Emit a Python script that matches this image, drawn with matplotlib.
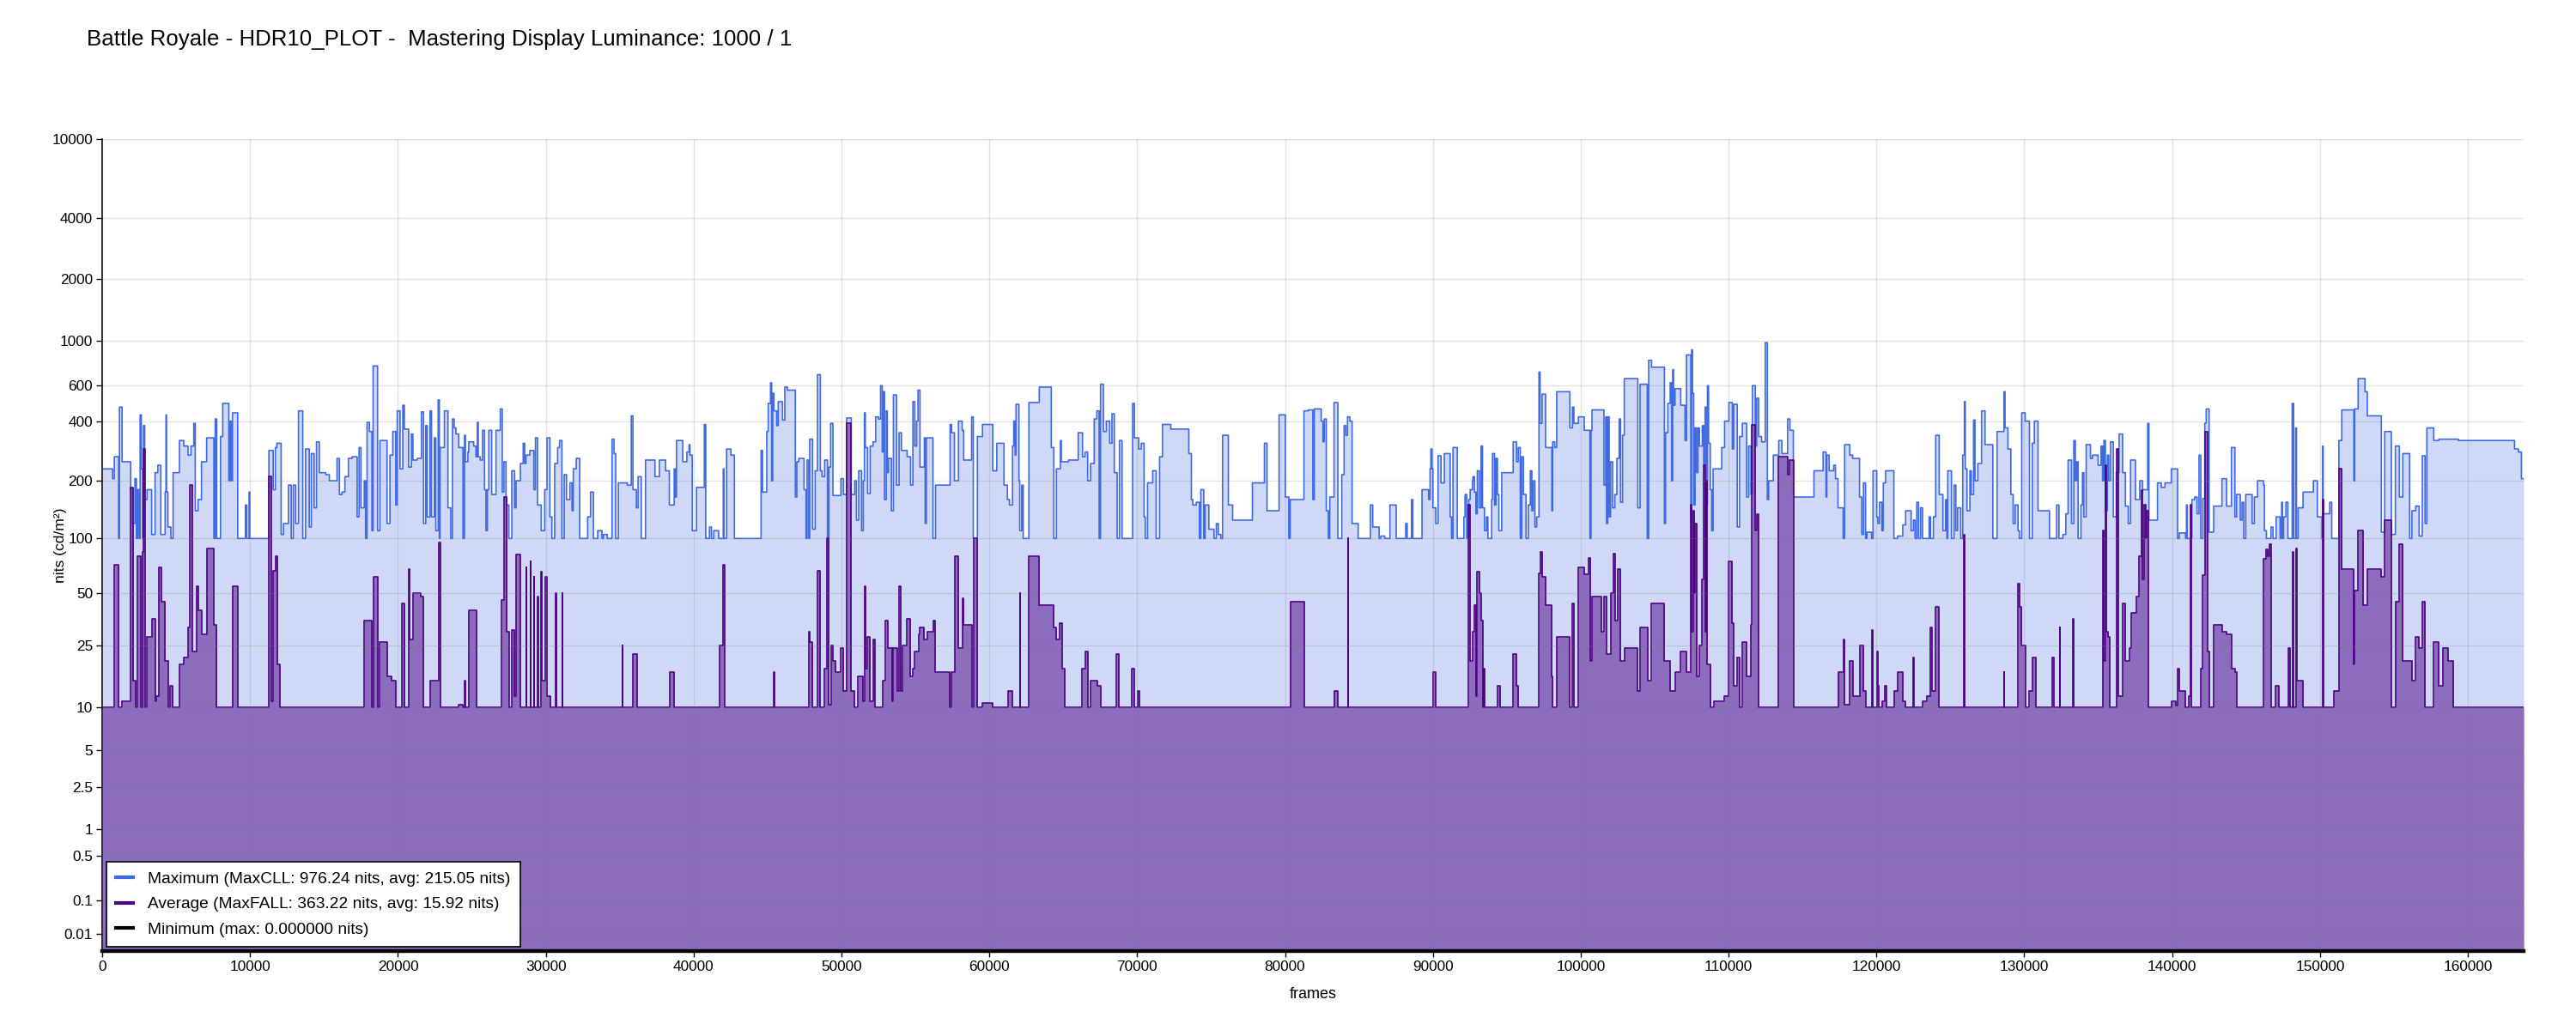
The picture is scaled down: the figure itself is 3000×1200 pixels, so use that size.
import matplotlib
matplotlib.use("Agg")
import matplotlib.pyplot as plt
from matplotlib.lines import Line2D
import numpy as np

plt.rcParams['font.family'] = ['Liberation Sans', 'DejaVu Sans']

TITLE = "Battle Royale - HDR10_PLOT -  Mastering Display Luminance: 1000 / 1"
LAST_FRAME = 163780

# per-frame brightest pixel (nits), step values starting at each frame
max_frames = [
    0, 700, 815, 1105, 1165, 1340, 1920, 2020, 2210, 2310, 2400, 2500, 2560, 2640, 2730, 2790,
    2870, 3030, 3340, 3570, 3760, 3960, 4250, 4310, 4340, 4440, 4640, 4790, 5220, 5510, 5800,
    6000, 6190, 6290, 6480, 6710, 7060, 7550, 7640, 7740, 8000, 8150, 8560, 8650, 8740, 8810,
    9160, 9680, 9780, 9930, 9980, 11270, 11560, 11710, 11810, 12100, 12260, 12590, 12780,
    12920, 13080, 13270, 13560, 13750, 14000, 14140, 14330, 14490, 14680, 15110, 15360, 15880,
    16040, 16220, 16410, 16650, 16900, 17240, 17370, 17500, 17720, 17810, 17910, 18070, 18240,
    18320, 18620, 18780, 19260, 19460, 19650, 19850, 19950, 20140, 20330, 20430, 20720, 20910,
    21010, 21300, 21590, 21730, 21880, 21980, 22170, 22270, 22460, 22560, 22720, 22800, 22850,
    23140, 23380,
    23570, 23685, 23800, 23920, 24110, 24400, 24500, 24560, 24730, 24790, 25120, 25275, 25370,
    25430, 25565, 25720, 25855, 25950, 26050, 26145, 26340, 26630, 26920, 27055, 27170, 27310,
    27500, 27700, 27890, 27990, 28280, 28470, 28570, 28665, 28920, 29190, 29300, 29440, 29690,
    29925, 30080, 30275, 30410, 30600, 30800, 30930, 31090, 31245, 31400, 31630, 31770, 31860,
    32060, 32290, 32830, 33025, 33220, 33510, 33800, 33900, 34150, 34480, 34615, 34730, 34905,
    35510, 35780, 35895, 36125, 36240, 36455, 36745, 37385, 37680, 38100, 38355, 38685, 38740,
    38840, 39265, 39540, 39690, 39750, 39905, 40195, 40720, 40815, 41070, 41205, 41360, 41690,
    42000, 42055, 42230, 42520, 42755, 44560, 44655, 44945, 45045, 45200, 45275, 45350, 45430,
    45620, 45720, 46010, 46165, 46340,
    46880, 46980, 47115, 47465, 47600, 47675, 47790, 47850, 48045, 48220, 48375, 48570, 48685,
    48860, 49050, 49150, 49265, 49420, 49960, 50135, 50350, 50660, 50890, 51010, 51165, 51360,
    51475, 51550, 51610, 51765, 51940, 52135, 52310, 52500, 52640, 52755, 52830, 52910, 53025,
    53100, 53180, 53375, 53510, 53720, 53895, 54050, 54440, 54670, 54830, 54960, 55080, 55175,
    55310, 55600, 55660, 55740, 55835, 56185, 56360, 57345, 57445, 57640, 57910, 58160, 58260,
    58800, 58915, 59190, 59535, 60235, 60505, 60990, 61220, 61360, 61570, 61650, 61745, 61805,
    62000, 62055, 62190, 62290, 62675, 63375, 64190, 64360, 64535, 64805, 64865, 65350, 66010,
    66300, 66475, 66650, 66845, 67095, 67270, 67425, 67520, 67715, 67910, 68140, 68295, 68450,
    68645, 68800, 68975, 69690, 69810,
    70100, 70275, 70465, 70545, 70700, 71050, 71280, 71515, 71710, 72270, 73490, 73665, 73760,
    73995, 74205, 74305, 74500, 74595, 74845, 75195, 75350, 75485, 75660, 75775, 76165, 76455,
    77790, 78605, 78780, 79595, 80020, 80255, 80350, 81280, 81570, 81880, 81980, 82445, 82560,
    82655, 82790, 82930, 83025, 83315, 83570, 83840, 83995, 84110, 84225, 84380, 84535, 84945,
    85775, 85930, 86360, 86475, 86745, 87095, 87520, 88160, 88260, 88550, 88645, 89265, 89710,
    89810, 89865, 89945, 90000, 90195, 90350, 90545, 90775, 91165, 91260, 91360, 91650, 92095,
    92175, 92290, 92425, 92520, 92675,
    92715, 92810, 92910, 93005, 93140, 93260, 93355, 93490, 93625, 93720, 93975, 94035, 94170,
    94265, 94365, 94460, 94655, 95430, 95660, 95775, 95910, 96010, 96125, 96300, 96455, 96590,
    96690, 96785, 96900, 97020, 97175, 97250, 97385, 97620, 98045, 98100, 98240, 98375, 99265,
    99440, 99535, 99845, 100235, 100620, 100700, 100760, 101570, 101690, 101745, 101825, 101920,
    102020, 102155, 102310, 102445, 102600, 102695, 102830, 102945, 103860, 104015, 104500,
    104595, 104790, 105660, 105740, 105890, 106050, 106145, 106220, 106280, 106380, 106765,
    107055, 107155, 107445, 107500, 107560, 107640, 107735, 107830, 107930, 108025, 108220,
    108315, 108410, 108510, 108570, 108645, 108760, 108860, 108955, 109090, 109535, 109730,
    110020, 110255, 110350, 110585, 110740, 110930, 111225, 111360, 111515, 111610, 111805,
    111900, 112035, 112230, 112480, 112620, 112715, 113025, 113395, 113605, 113995, 114150,
    114380, 115775, 116395,
    116590, 116645, 116800, 117110, 117230, 117400, 117750, 117850, 118195, 118390, 118855,
    119010, 119125, 119265, 119360, 119670, 119770, 120020, 120095, 120210, 120370, 120465,
    120620, 121180, 121435, 121780, 121975, 122345, 122500, 122615, 122730, 122850, 122985,
    123120, 123565, 123660, 123855, 124010, 124245, 124495, 124670, 124765, 124825, 125075,
    125250, 125370, 125485, 125700, 125835, 125950, 126010, 126125, 126320, 126415, 126570,
    126665, 126860, 127110, 127345, 127870, 128160, 128625, 128700, 128895, 129090, 129245,
    129380, 129575, 129670, 129825, 130060, 130350, 130545, 130680, 130930, 131705, 132190,
    132345, 132615, 132810, 132965, 133195, 133350, 133450, 133545, 133640, 133835, 133935,
    134030, 134185, 134475, 134610, 134995, 135195, 135290, 135385, 135485, 135620, 135715,
    135835, 136025, 136220, 136415, 136650, 136840, 137035, 137190, 137520, 137810, 138005,
    138350, 138430, 139010, 139265, 139515,
    139945, 140370, 140485, 140910, 140970, 141030, 141340, 141530, 141685, 141820, 141940,
    142075, 142210, 142305, 142500, 142810, 143370, 143685, 144010, 144245, 144360, 144610,
    144730, 144845, 144980, 145410, 145560, 145775, 146185, 146240, 146375, 146685, 146820,
    147035, 147305, 147405, 147460, 147540, 147695, 147830, 148120, 148220, 148355, 148410,
    148525, 148855, 149555, 149825, 150135, 150175, 150215, 150660, 150795, 151280, 151475,
    152290, 152345, 152580, 153045, 153200, 154150, 154380, 154825, 155100, 155370, 155600,
    156065, 156220, 156475, 156705, 156920, 157110, 157230, 157695, 158045, 159360, 163160,
    163430, 163625,
]
max_nits = [
    230, 205, 265, 100, 470, 250, 180, 120, 205, 100, 180, 100, 430, 230, 100, 380,
    160, 180, 105, 220, 240, 105, 175, 430, 175, 115, 100, 220, 320, 300, 270,
    300, 390, 140, 160, 250, 330, 100, 410, 100, 335, 490, 200, 400, 200, 440,
    100, 150, 100, 175, 100, 285, 180, 295, 310, 105, 120, 190, 100,
    190, 120, 450, 100, 290, 115, 275, 145, 315, 220, 215, 200, 260,
    170, 175, 210, 260, 265, 130, 295, 145, 200, 100, 395, 355, 110,
    750, 110, 320, 120, 270, 355, 150, 450, 230, 480, 365, 235, 345,
    255, 260, 445, 120, 380, 130, 450, 130, 330, 110, 510, 100, 295,
    450, 145,
    100, 410, 370, 345, 295, 100, 340, 250, 280, 315, 300, 265, 395,
    265, 255, 360, 180, 110, 180, 360, 170, 360, 460, 175, 250, 150,
    100, 225, 145, 200, 245, 310, 245, 270, 285, 180, 330, 150, 110,
    180, 330, 130, 100, 245, 295, 320, 100, 215, 160, 195, 140, 230,
    260, 100, 130, 175, 100, 110, 100, 105, 100, 325, 275, 100, 195,
    190, 425, 180, 145, 210, 100, 255, 210, 255, 225, 150, 230, 165,
    320, 250, 280, 305, 270, 110, 185, 385, 100, 115, 100, 110, 100,
    230, 100, 290, 270, 100, 285, 175, 355, 490, 620, 200, 550, 450,
    380, 500, 405, 590, 570,
    165, 250, 260, 180, 100, 255, 100, 325, 112, 225, 680, 225, 210,
    255, 100, 235, 390, 168, 205, 170, 415, 170, 200, 125, 225, 110,
    200, 440, 295, 172, 300, 315, 420, 410, 600, 280, 560, 160, 450,
    220, 260, 140, 540, 190, 350, 285, 265, 190, 500, 300, 400, 570,
    235, 330, 120, 330, 330, 100, 190, 385, 350, 200, 400, 360, 255,
    420, 100, 335, 385, 225, 310, 190, 160, 150, 300, 400, 270, 485,
    200, 110, 190, 100, 495, 590, 295, 100, 230, 320, 250, 255, 350,
    265, 280, 200, 245, 410, 450, 100, 610, 355, 400, 310, 435, 220,
    100, 320, 100, 490, 330,
    290, 310, 130, 100, 195, 225, 100, 265, 385, 365, 275, 160, 150,
    155, 100, 180, 100, 150, 112, 100, 120, 105, 100, 340, 150, 125,
    195, 310, 140, 430, 165, 100, 160, 450, 455, 160, 460, 400, 315,
    410, 140, 100, 165, 495, 100, 215, 380, 340, 420, 400, 120, 100,
    150, 115, 100, 103, 100, 150, 100, 120, 100, 160, 100, 180, 160,
    230, 290, 230, 145, 120, 268, 195, 275, 130, 100, 295, 100, 130,
    170, 100, 160, 180, 200,
    210, 175, 135, 225, 145, 300, 145, 110, 130, 100, 160, 275, 150,
    260, 170, 110, 220, 315, 250, 295, 100, 265, 170, 100, 150, 225,
    140, 200, 115, 130, 700, 390, 545, 295, 140, 315, 295, 560, 370,
    470, 390, 420, 360, 100, 360, 455, 190, 420, 120, 420, 130,
    250, 145, 170, 260, 410, 155, 340, 650, 145, 610, 100,
    800, 740, 120, 350, 490, 620, 200, 720, 480, 580, 480,
    320, 850, 125, 900, 550, 150, 370, 220, 370, 300, 380,
    240, 470, 150, 600, 310, 180, 110, 230, 230, 295, 400,
    495, 290, 485, 115, 335, 390, 165, 300, 170, 600, 300,
    520, 335, 315, 976.24, 160, 200, 270, 320, 275, 410, 360,
    165, 225, 280,
    165, 270, 225, 240, 205, 145, 100, 305, 270, 260, 165,
    105, 195, 100, 108, 100, 225, 130, 120, 155, 110, 195,
    225, 100, 103, 118, 140, 110, 125, 100, 155, 100, 145,
    100, 130, 100, 130, 340, 170, 110, 160, 100, 225, 100,
    190, 110, 145, 100, 270, 500, 230, 140, 225, 170, 405,
    200, 245, 450, 305, 100, 355, 560, 370, 290, 170, 120,
    150, 110, 100, 440, 400, 100, 310, 400, 140, 100, 150,
    100, 105, 135, 255, 120, 320, 200, 250, 100, 150, 220,
    130, 305, 260, 270, 240, 300, 200, 320, 140, 270, 200,
    315, 130, 220, 345, 220, 148, 120, 255, 160, 200, 180,
    390, 125, 195, 185, 195,
    230, 100, 107, 100, 150, 100, 160, 165, 135, 270, 100,
    162, 390, 460, 108, 148, 205, 148, 295, 130, 170, 125,
    155, 100, 170, 120, 165, 200, 190, 110, 100, 115, 100,
    130, 100, 155, 100, 130, 155, 100, 490, 100, 370, 100,
    145, 175, 200, 130, 100, 300, 135, 155, 100, 320, 455,
    200, 460, 650, 560, 425, 108, 355, 105, 300, 165, 275,
    100, 140, 148, 103, 268, 120, 370, 320, 325, 320, 290,
    280, 205,
]

# per-frame average light level (nits)
avg_frames = [
    0, 815, 1105, 1355, 1920, 2110, 2265, 2400, 2595, 2695, 2790, 2870, 3030, 3340, 3570, 3665,
    3800, 3990, 4250, 4440, 4595, 4770, 5215, 5505, 5795, 5930, 6085, 6375, 6475, 6705, 7055,
    7540, 7730, 8800, 9150, 11260, 11415, 11550, 11705, 11860, 12000, 17715, 18240, 18320,
    18625, 18780, 19265, 19555, 19845, 20270, 20465, 20720, 20775, 21010, 21550, 21725, 22170,
    22750, 22850,
    24110, 24365, 24500, 24560, 24790, 25310, 27020, 27170, 27365, 27500, 27700, 27890, 27990,
    28280, 28665, 28705, 28955, 28995, 29190, 29230, 29460, 29500, 29690, 29730, 29965, 30080,
    30315, 30660, 30740, 31110, 31145, 35175, 35215, 35895, 36165, 38375, 38665, 41745, 41980,
    42075, 45430, 45470,
    47790, 47850, 48045, 48375, 48570, 48860, 49015, 49150, 49305, 49420, 49595, 49945, 50135,
    50350, 50660, 50890, 51125, 51435, 51590, 51630, 51765, 51940, 52135, 52250, 52790, 52985,
    53140, 53410, 53510, 53760, 53915, 53995, 54030, 54150, 54440, 54670, 54830, 54960, 55215,
    55310, 55600, 55795, 56185, 56320, 57345, 57445, 57640, 57910, 58160, 58275, 58800, 58955,
    59190, 59535, 60235, 61260, 61550, 62055, 62095, 62675, 63375, 64360, 64515, 64750, 64905,
    65100, 66280, 66475, 66650, 66845, 67325, 67520, 68605, 68760, 69635, 69790,
    70040, 70135, 80350, 81280, 83315, 83570, 84245, 84285, 90000, 90195, 92425, 92520,
    92715, 92810, 92910, 93005, 93140, 93260, 93355, 93450, 93490,
    94365, 94555, 95430, 95660, 95775, 97175, 97270, 97405, 97620, 98045, 98100, 98375, 99265,
    99440, 99535, 99845, 100235, 100545, 100660, 100760, 101395, 101590, 101725, 102020, 102210,
    102310, 102500, 102695, 102945, 103860, 104015, 104535, 104790, 105660, 106050, 106395,
    106765, 107155, 107445, 107520, 107600, 107675, 107755, 107870, 108025, 108220, 108315,
    108410, 108470, 108550, 108800, 109035, 109730, 110020, 110255, 110350, 110585, 110740,
    110930, 111225, 111475, 111570, 111805, 111900, 112035, 113355, 113975, 114130, 114380,
    117400, 117750, 117850, 118195, 118390, 118855, 119125, 119265, 119670, 119770, 120020,
    120095, 120175, 120370, 120560, 120660, 121180, 121435, 121780, 121975, 122460, 122540,
    123120, 123430, 123625, 123760, 124010, 124245, 125890, 125990, 128625, 128665, 129590,
    129690, 129825, 130060, 130350, 130545, 130795, 131900, 131995, 132385, 132440, 133295,
    133350, 135290, 135385, 135485, 135560, 135680, 135775, 136220, 136355, 136650, 136840,
    137130, 137230, 137575, 137750, 137905, 138005, 138100, 138195, 138295, 138390,
    139945, 140235, 140370, 140485, 140910, 141105, 141240, 141300, 141940, 142075, 142210,
    142385, 142500, 142810, 143370, 143665, 144010, 144245, 144360, 146185, 146340, 146495,
    146570, 146685, 147015, 147210, 147850, 147985, 148140, 148200, 148375, 148430, 148855,
    150175, 150215, 150930, 151280, 151475, 152290, 152345, 152580, 152925, 153200, 154150,
    154380, 154825, 155100, 155370, 155600, 156220, 156475, 156705, 156920, 157110, 157695,
    158045, 158315, 158645, 159030,
]
avg_nits = [
    10, 72, 10, 11, 185, 15, 10, 80, 10, 85, 290, 10, 28, 36, 11, 12,
    70, 45, 20, 10, 14, 10, 19, 21, 32, 190, 23, 55, 40, 29, 88,
    33, 10, 55, 10, 210, 11, 67, 80, 19, 10, 35, 10, 62,
    10, 26, 16, 15, 10, 44, 10, 68, 27, 50, 48, 10, 15,
    95, 10,
    10.5, 10, 15, 10, 40, 10, 46, 165, 30, 10, 31, 12, 82,
    10, 70, 10, 75, 10, 62, 10, 48, 10, 66, 15, 62, 12,
    10, 50, 10, 50, 10, 25, 10, 22, 10, 17, 10, 25, 72,
    10, 17, 10,
    30, 26, 10, 67, 10, 18, 100, 10.5, 25, 20, 17, 24, 13,
    390, 13, 10, 16, 11, 55, 18, 28, 11, 27, 10, 15, 35,
    24, 11, 24, 13, 55, 20, 13, 25, 36, 16, 18, 23, 29,
    32, 27, 30, 35, 17, 10, 17, 80, 24, 47, 33, 10, 100,
    10, 10.8, 10, 13, 10, 50, 10, 80, 43, 32, 27, 34, 18,
    10, 18, 23, 10, 15, 14, 10, 22, 10, 18, 10,
    13, 10, 45, 10, 13, 10, 100, 10, 17, 10, 150, 20,
    30, 43, 12, 66, 50, 35, 10, 18, 10,
    14, 10, 22, 14, 10, 65, 85, 62, 43, 16, 10, 28, 10,
    44, 10, 70, 64, 79, 20, 48, 30, 48, 22, 50, 83,
    35, 68, 20, 24, 13, 32, 15, 44, 20, 13, 17,
    23, 17, 150, 30, 140, 50, 120, 16, 25, 60, 240,
    30, 200, 19, 10, 11, 12, 75, 34, 14, 21, 10,
    26, 16, 33, 385, 110, 135, 10, 265, 215, 255, 10,
    17, 27, 10.5, 20, 12, 25, 13, 10, 31, 10, 23,
    14, 10, 11, 14, 10, 13, 17, 11, 10, 21, 10,
    11, 12, 32, 13, 42, 10, 105, 10, 17, 10, 57,
    42, 25, 10, 13, 21, 10, 21, 10, 32, 10, 36,
    10, 110, 20, 240, 30, 28, 10, 290, 12, 44, 20,
    24, 39, 48, 80, 180, 60, 150, 100, 140, 10,
    11, 10.3, 18, 13, 10, 12, 150, 10, 18, 63, 355,
    23, 10, 33, 30, 29, 18, 17, 10, 78, 87, 80,
    93, 10, 14, 10, 24, 10, 85, 10, 88, 15, 10,
    160, 10, 13, 230, 68, 19, 52, 110, 43, 68, 62,
    125, 10, 45, 93, 20, 15, 28, 24, 45, 10, 26,
    14, 24, 20, 10,
]

min_max_nits = 0.0

y_ticks = [0.01, 0.1, 0.5, 1, 2.5, 5, 10, 25, 50, 100, 200, 400, 600, 1000, 2000, 4000, 10000]
y_labels = ["0.01", "0.1", "0.5", "1", "2.5", "5", "10", "25", "50", "100", "200", "400",
            "600", "1000", "2000", "4000", "10000"]
x_ticks = list(range(0, 160001, 10000))

# SMPTE ST 2084 (PQ) curve for the y axis
M1 = 2610 / 16384
M2 = 2523 / 4096 * 128
C1 = 3424 / 4096
C2 = 2413 / 4096 * 32
C3 = 2392 / 4096 * 32


def pq_forward(nits):
    y = np.clip(np.asarray(nits, dtype=float) / 10000.0, 0.0, None)
    ym = y ** M1
    return ((C1 + C2 * ym) / (1.0 + C3 * ym)) ** M2


def pq_inverse(v):
    n = np.clip(np.asarray(v, dtype=float), 0.0, 1.0)
    p = n ** (1.0 / M2)
    return 10000.0 * (np.clip(p - C1, 0.0, None) / (C2 - C3 * p)) ** (1.0 / M1)


def stepped(frames, values):
    xs = np.append(frames, LAST_FRAME)
    ys = np.append(values, values[-1])
    return xs, ys


def plot_hdr():
    fig = plt.figure(figsize=(15, 6), dpi=200)
    ax = fig.add_axes([0.0397, 0.0767, 0.9400, 0.7883])

    ax.set_yscale('function', functions=(pq_forward, pq_inverse))

    mx, my = stepped(max_frames, max_nits)
    vx, vy = stepped(avg_frames, avg_nits)

    ax.fill_between(mx, my, 0, step='post', color='royalblue', alpha=0.25, lw=0, zorder=1)
    ax.step(mx, my, where='post', color='royalblue', lw=0.6, zorder=2)
    ax.fill_between(vx, vy, 0, step='post', color='indigo', alpha=0.5, lw=0, zorder=1.5)
    ax.step(vx, vy, where='post', color='indigo', lw=0.6, zorder=2.1)
    ax.plot([0, LAST_FRAME], [min_max_nits, min_max_nits], color='black', lw=1.6,
            zorder=3, clip_on=False)

    ax.set_xlim(0, LAST_FRAME)
    ax.set_ylim(0, 10000)
    ax.set_yticks(y_ticks)
    ax.set_yticklabels(y_labels)
    ax.yaxis.set_minor_locator(matplotlib.ticker.NullLocator())
    ax.set_xticks(x_ticks)
    ax.set_xticklabels([str(t) for t in x_ticks])

    ax.grid(True, color='gray', alpha=0.22, lw=0.5, zorder=2.5)
    ax.set_axisbelow(False)

    for s in ['top', 'right', 'bottom']:
        ax.spines[s].set_visible(False)
    ax.spines['left'].set_linewidth(0.6)
    ax.tick_params(axis='both', labelsize=6.2, length=2.5, width=0.5, pad=1.5)

    ax.set_xlabel("frames", fontsize=6.5)
    ax.xaxis.set_label_coords(0.5, -0.044)
    ax.set_ylabel("nits (cd/m²)", fontsize=6.3)
    ax.yaxis.set_label_coords(-0.0145, 0.5)

    fig.text(0.0337, 0.962, TITLE, fontsize=9.3, ha='left', va='center')

    handles = [
        Line2D([], [], color='royalblue', lw=1.5),
        Line2D([], [], color='indigo', lw=1.5),
        Line2D([], [], color='black', lw=1.5),
    ]
    labels = [
        "Maximum (MaxCLL: 976.24 nits, avg: 215.05 nits)",
        "Average (MaxFALL: 363.22 nits, avg: 15.92 nits)",
        "Minimum (max: %.6f nits)" % min_max_nits,
    ]
    leg = ax.legend(handles, labels, loc='lower left', fontsize=6.9, fancybox=False,
                    edgecolor='black', framealpha=1.0, borderaxespad=0.25,
                    handlelength=1.0, handletextpad=0.9, labelspacing=0.62,
                    borderpad=0.6)
    leg.get_frame().set_linewidth(0.6)
    leg.set_zorder(5)

    fig.savefig("out.png", dpi=200)
    plt.close(fig)


def main():
    assert len(max_frames) == len(max_nits), (len(max_frames), len(max_nits))
    assert len(avg_frames) == len(avg_nits), (len(avg_frames), len(avg_nits))
    plot_hdr()


if __name__ == '__main__':
    main()
